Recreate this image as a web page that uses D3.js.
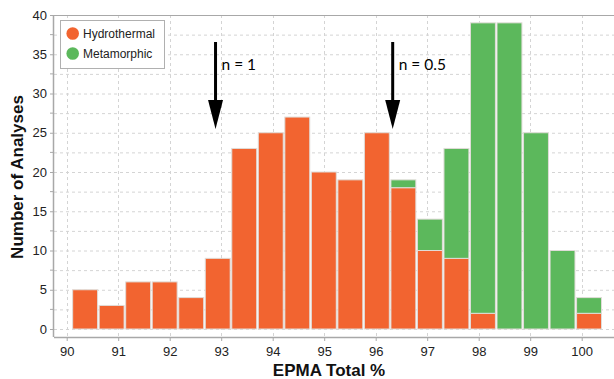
<!DOCTYPE html>
<html>
<head>
<meta charset="utf-8">
<script src="https://cdn.jsdelivr.net/npm/d3@7/dist/d3.min.js"></script>
<style>
  html, body { margin: 0; padding: 0; background: #fff; }
  svg { display: block; }
</style>
</head>
<body>
<svg id="chart" width="614" height="379"></svg>
<script>
// Histogram bins of EPMA totals (left edge of first bin and common bin width)
const binStart = 90.1;
const binWidth = 0.515;
const hydrothermal = [5, 3, 6, 6, 4, 9, 23, 25, 27, 20, 19, 25, 18, 10, 9, 2, 0, 0, 0, 2];
const metamorphic  = [0, 0, 0, 0, 0, 0, 0, 0, 0, 0, 0, 0, 1, 4, 14, 37, 39, 25, 10, 2];
const xTicks = [90, 91, 92, 93, 94, 95, 96, 97, 98, 99, 100];
const yTicks = [0, 5, 10, 15, 20, 25, 30, 35, 40];
const yGrid = d3.range(0, 40.01, 2.5);
const seriesNames = ["Hydrothermal", "Metamorphic"];
const seriesColors = ["#f26430", "#5cb85c"];
const arrows = [
  { x: 92.89, label: "n = 1" },
  { x: 96.33, label: "n = 0.5" }
];

const svg = d3.select("#chart");
const plotLeft = 54, plotTop = 15, plotBottom = 337, plotRight = 614;

const x = d3.scaleLinear().domain([90, 100]).range([66.7, 581.7]);
const y = d3.scaleLinear().domain([0, 40]).range([329, 15]);

// Gridlines
const grid = svg.append("g");
grid.selectAll("line.h").data(yGrid).join("line")
  .attr("x1", plotLeft).attr("x2", plotRight)
  .attr("y1", d => y(d) + 0.5).attr("y2", d => y(d) + 0.5)
  .attr("stroke", "#d4d4d4").attr("stroke-width", 1)
  .attr("stroke-dasharray", "3,3");
grid.selectAll("line.v").data(xTicks).join("line")
  .attr("x1", d => Math.round(x(d)) + 0.5).attr("x2", d => Math.round(x(d)) + 0.5)
  .attr("y1", plotTop).attr("y2", plotBottom)
  .attr("stroke", "#d4d4d4").attr("stroke-width", 1)
  .attr("stroke-dasharray", "3,3");

// Top frame line
svg.append("line")
  .attr("x1", plotLeft).attr("x2", plotRight)
  .attr("y1", plotTop + 0.5).attr("y2", plotTop + 0.5)
  .attr("stroke", "#a8a8a8");

// Stacked bars
const bins = hydrothermal.map((h, i) => ({
  x0: binStart + i * binWidth,
  x1: binStart + (i + 1) * binWidth,
  h: h,
  m: metamorphic[i]
}));
const bars = svg.append("g");
bins.forEach(b => {
  const segs = [
    { lo: 0, hi: b.h, c: seriesColors[0] },
    { lo: b.h, hi: b.h + b.m, c: seriesColors[1] }
  ];
  segs.forEach(s => {
    if (s.hi - s.lo <= 0) return;
    bars.append("rect")
      .attr("x", x(b.x0) + 0.8)
      .attr("width", x(b.x1) - x(b.x0) - 1.6)
      .attr("y", y(s.hi))
      .attr("height", y(s.lo) - y(s.hi))
      .attr("fill", s.c)
      .attr("stroke", "#e0dcd8")
      .attr("stroke-width", 1);
  });
});

// Axes
const axisColor = "#a8a8a8";
const xAxis = svg.append("g").attr("transform", `translate(0,${plotBottom})`)
  .call(d3.axisBottom(x).tickValues(xTicks).tickSize(4).tickFormat(d3.format("d")));
xAxis.select(".domain").attr("d", `M${plotLeft},0.5H${plotRight}`).attr("stroke", axisColor).attr("stroke-width", 1.5);
xAxis.selectAll(".tick line").attr("stroke", axisColor);
xAxis.selectAll(".tick text")
  .attr("font-family", "Liberation Sans, Arial, sans-serif")
  .attr("font-size", 13).attr("fill", "#222").attr("dy", "0.95em");

const yAxis = svg.append("g").attr("transform", `translate(${plotLeft},0)`)
  .call(d3.axisLeft(y).tickValues(yTicks).tickSize(4));
yAxis.select(".domain").attr("d", `M-0.5,${plotTop}V${plotBottom}`).attr("stroke", axisColor).attr("stroke-width", 1.5);
yAxis.selectAll(".tick line").attr("stroke", axisColor);
yAxis.selectAll(".tick text")
  .attr("font-family", "Liberation Sans, Arial, sans-serif")
  .attr("font-size", 13).attr("fill", "#222").attr("x", -7);
// minor ticks
yAxis.selectAll("line.minor").data(d3.range(2.5, 40, 5)).join("line")
  .attr("x1", -4).attr("x2", 0)
  .attr("y1", d => y(d)).attr("y2", d => y(d))
  .attr("stroke", axisColor);

// Axis titles
svg.append("text")
  .attr("x", 329).attr("y", 376)
  .attr("text-anchor", "middle")
  .attr("font-family", "Liberation Sans, Arial, sans-serif")
  .attr("font-weight", "bold").attr("font-size", 17).attr("fill", "#111")
  .text("EPMA Total %");
svg.append("text")
  .attr("transform", "translate(23,177) rotate(-90)")
  .attr("text-anchor", "middle")
  .attr("font-family", "Liberation Sans, Arial, sans-serif")
  .attr("font-weight", "bold").attr("font-size", 17).attr("fill", "#111")
  .text("Number of Analyses");

// Legend
const legend = svg.append("g");
legend.append("rect")
  .attr("x", 60.5).attr("y", 20.5).attr("width", 104).attr("height", 48)
  .attr("fill", "#fff").attr("stroke", "#b0b0b0");
seriesNames.forEach((n, i) => {
  legend.append("circle")
    .attr("cx", 72.7).attr("cy", 33.5 + i * 20).attr("r", 6.3)
    .attr("fill", seriesColors[i]);
  legend.append("text")
    .attr("x", 83).attr("y", 33.5 + i * 20).attr("dy", "0.36em")
    .attr("font-family", "Liberation Sans, Arial, sans-serif")
    .attr("font-size", 12).attr("fill", "#222")
    .text(n);
});

// Annotation arrows
const ann = svg.append("g");
arrows.forEach(a => {
  const ax = x(a.x);
  ann.append("line")
    .attr("x1", ax).attr("x2", ax).attr("y1", 42).attr("y2", 102)
    .attr("stroke", "#000").attr("stroke-width", 3);
  ann.append("path")
    .attr("d", `M${ax - 7.5},100L${ax + 7.5},100L${ax},129Z`)
    .attr("fill", "#000");
  ann.append("text")
    .attr("x", ax + 6).attr("y", 70)
    .attr("font-family", "Lato, sans-serif")
    .attr("font-size", 15.5).attr("fill", "#000")
    .text(a.label);
});
</script>
</body>
</html>
